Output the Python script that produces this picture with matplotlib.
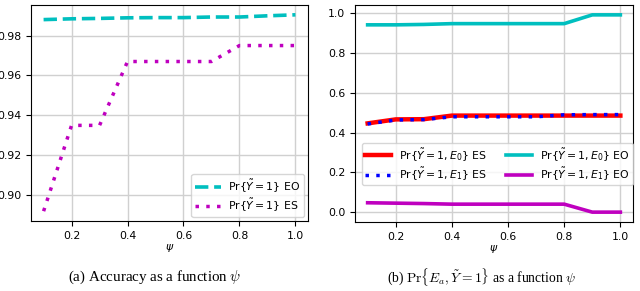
import matplotlib
matplotlib.use("Agg")
import matplotlib.pyplot as plt

psi = [0.1, 0.2, 0.3, 0.4, 0.5, 0.6, 0.7, 0.8, 0.9, 1.0]

# (a) accuracy
acc_eo = [0.988, 0.9884, 0.9886, 0.9889, 0.989, 0.989, 0.9893, 0.9893, 0.9899, 0.9904]
acc_es = [0.892, 0.935, 0.935, 0.967, 0.967, 0.967, 0.967, 0.975, 0.975, 0.975]

# (b) Pr{E_a, Y~=1}
e0_es = [0.446, 0.466, 0.467, 0.485, 0.485, 0.485, 0.485, 0.485, 0.485, 0.485]
e1_es = [0.443, 0.463, 0.465, 0.479, 0.479, 0.479, 0.479, 0.489, 0.490, 0.490]
e0_eo = [0.94, 0.94, 0.942, 0.946, 0.946, 0.946, 0.946, 0.946, 0.99, 0.99]
e1_eo = [0.048, 0.046, 0.044, 0.041, 0.041, 0.041, 0.041, 0.041, 0.001, 0.001]

plt.rcParams['font.size'] = 7.8
plt.rcParams['mathtext.fontset'] = 'dejavusans'

fig = plt.figure(figsize=(6.4, 2.91), dpi=100)
W, H = 640, 291

def box(l, t, r, b):
    return [l / W, 1 - b / H, (r - l) / W, (b - t) / H]

leg_kw = dict(fontsize=7.8, handlelength=2.4, labelspacing=0.2, borderpad=0.3,
              handletextpad=0.7)

ax1 = fig.add_axes(box(31, 5, 308, 221))
ax1.plot(psi, acc_eo, color='c', ls='--', lw=2.6, label=r'Pr{$\tilde{Y}=1$} EO')
ax1.plot(psi, acc_es, color='m', ls=':', lw=2.5, dashes=(1, 2.1), label=r'Pr{$\tilde{Y}=1$} ES')
ax1.set_yticks([0.90, 0.92, 0.94, 0.96, 0.98])
ax1.set_xticks([0.2, 0.4, 0.6, 0.8, 1.0])
ax1.grid(True, color='#d0d0d0', lw=1)
ax1.set_xlabel(r'$\psi$', labelpad=1)
ax1.legend(loc='lower right', borderaxespad=0.4, **leg_kw)

ax2 = fig.add_axes(box(355, 5, 633, 222))
ax2.plot(psi, e0_es, color='r', lw=3.2, label=r'Pr{$\tilde{Y}=1, E_0$} ES')
ax2.plot(psi, e1_es, color='b', ls=':', lw=2.5, dashes=(1, 2.1), label=r'Pr{$\tilde{Y}=1, E_1$} ES')
ax2.plot(psi, e0_eo, color='c', lw=2.6, label=r'Pr{$\tilde{Y}=1, E_0$} EO')
ax2.plot(psi, e1_eo, color='m', lw=2.6, label=r'Pr{$\tilde{Y}=1, E_1$} EO')
ax2.set_yticks([0.0, 0.2, 0.4, 0.6, 0.8, 1.0])
ax2.set_xticks([0.2, 0.4, 0.6, 0.8, 1.0])
ax2.grid(True, color='#d0d0d0', lw=1)
ax2.set_xlabel(r'$\psi$', labelpad=1)
ax2.legend(loc='upper right', bbox_to_anchor=(1.0, 0.364), borderaxespad=0,
           ncol=2, columnspacing=1.8, **leg_kw)

cap = dict(family='Liberation Serif', ha='center', va='center', math_fontfamily='cm')
fig.text(155 / W, 1 - 277 / H, r'(a) Accuracy as a function $\psi$', fontsize=10.8, **cap)
fig.text(481 / W, 1 - 277 / H, r'(b) $\mathrm{Pr}\{E_a, \tilde{Y}=1\}$ as a function $\psi$',
         fontsize=9.8, **cap)

fig.savefig('out.png', dpi=100)
